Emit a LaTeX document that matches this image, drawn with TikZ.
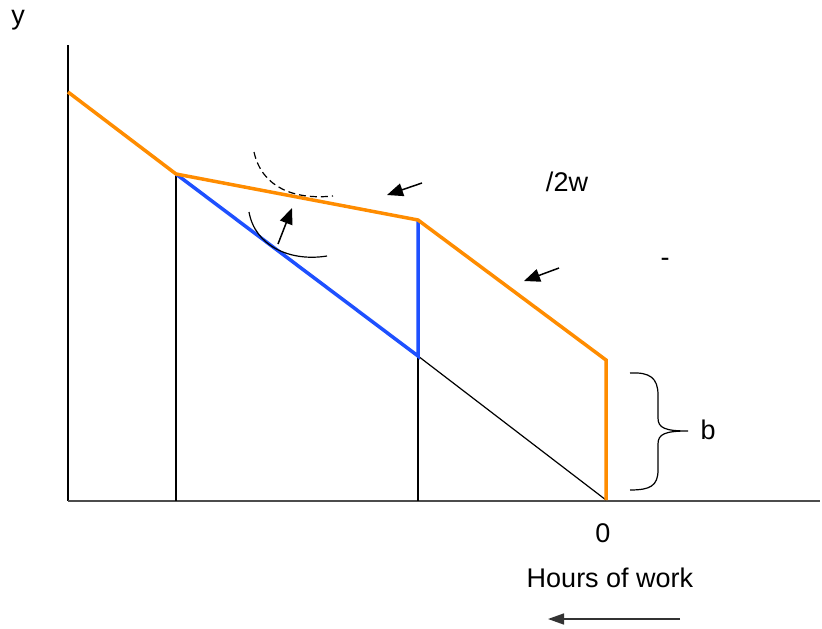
\documentclass[tikz,border=0pt]{standalone}
\usepackage{fontspec}
\setmainfont{Liberation Sans}
\usetikzlibrary{arrows.meta}
\definecolor{org}{RGB}{255,140,0}
\definecolor{blu}{RGB}{30,80,255}
\tikzset{
  lbl/.style={font=\fontsize{27}{31}\selectfont, inner sep=0pt},
  orangeline/.style={draw=org, line width=3.5pt, line join=miter},
  blueline/.style={draw=blu, line width=3.5pt},
  thin/.style={draw=black, line width=1.2pt},
  arr/.style={draw=black, line width=1.5pt, -{Triangle[length=16pt,width=13pt]}}
}
\begin{document}
\begin{tikzpicture}[x=1pt,y=-1pt]
\useasboundingbox (0,0) rectangle (822,629);
% coordinates
\coordinate (ytop) at (68,45);
\coordinate (origin) at (68,501);
\coordinate (xend) at (820,501);
\coordinate (A) at (68,92);
\coordinate (B) at (176,174);
\coordinate (C) at (418,220);
\coordinate (D) at (606,360);
\coordinate (E) at (606,500);
\coordinate (F) at (418,356);
\coordinate (Bb) at (176,501);
\coordinate (Fb) at (418,501);
% axes
\draw[thin] (ytop) -- (origin);
\draw[draw=black!70, line width=2pt] (origin) -- (xend);
% black thin lines
\draw[thin] (B) -- (Bb);
\draw[thin] (F) -- (Fb);
\draw[thin] (F) -- (E);
% blue
\draw[blueline] (B) -- (F) -- (C);
% orange
\draw[orangeline] (A) -- (B) -- (C) -- (D) -- (E);
% indifference curves
\coordinate (d1) at (254,152);
\coordinate (d2) at (333,196);
\draw[thin, dash pattern=on 7pt off 4pt] (d1) .. controls (262,188) and (295,200) .. (d2);
\coordinate (s1) at (249,212);
\coordinate (s2) at (327,256);
\draw[thin] (s1) .. controls (255,246) and (290,262) .. (s2);
% arrows
\coordinate (a1s) at (278,244); \coordinate (a1e) at (292,208);
\draw[arr] (a1s) -- (a1e);
\coordinate (a2s) at (422,183); \coordinate (a2e) at (387,195);
\draw[arr] (a2s) -- (a2e);
\coordinate (a3s) at (559,268); \coordinate (a3e) at (524,281);
\draw[arr] (a3s) -- (a3e);
% brace
\coordinate (br1) at (630,373);
\coordinate (br2) at (630,490);
\coordinate (brtip) at (688,431);
\draw[thin] (br1) .. controls (650,372) and (658,378) .. (658,395) -- (658,418)
  .. controls (658,428) and (665,431) .. (brtip)
  .. controls (665,431) and (658,434) .. (658,444) -- (658,470)
  .. controls (658,486) and (650,490) .. (br2);
% labels
\node[lbl] (ylab) at (18,20) {y};
\node[lbl] (w2) at (567,182) {/2w};
\node[lbl] (dash) at (665,262) {-};
\node[lbl] (blab) at (708,430) {b};
\node[lbl] (zero) at (603,533) {0};
\node[lbl] (hours) at (610,578) {Hours of work};
\coordinate (h1) at (680,619);
\coordinate (h2) at (548,619);
\draw[draw=black!80, line width=1.5pt, -{Triangle[length=16pt,width=11pt]}] (h1) -- (h2);
\end{tikzpicture}
\end{document}
